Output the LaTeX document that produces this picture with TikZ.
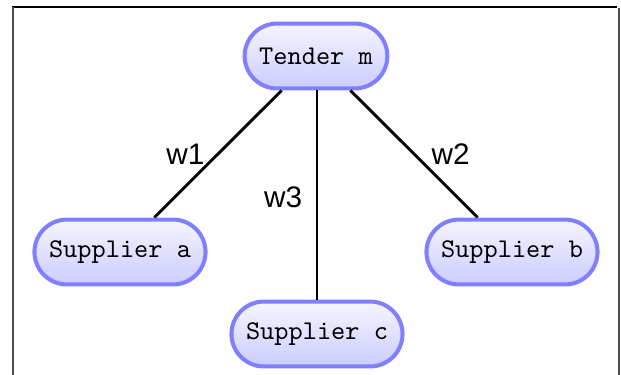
\documentclass[tikz,border=0pt]{standalone}
\usepackage{fontspec}
\setsansfont{Liberation Sans}
\usetikzlibrary{positioning}
\begin{document}
\begin{tikzpicture}[x=0.37pt,y=-0.37pt,
  party/.style={draw=blue!50, line width=1.5pt, rounded corners=12pt,
    top color=blue!4, bottom color=blue!20, font=\ttfamily,
    minimum height=24pt, inner xsep=5.4pt, inner ysep=3pt},
  link/.style={line width=1.05pt, black},
  wlabel/.style={font=\sffamily\fontsize{11}{13}\selectfont, inner sep=1pt},
  frameline/.style={line width=0.5pt}]
\useasboundingbox (0,0) rectangle (621,375);
\draw[frameline, black] (12,7) -- (617,7);
\draw[frameline, black!70] (13,7) -- (13,375);
\draw[frameline, black!70] (619,8) -- (619,375);

\node[party] (t) at (316,56) {Tender m};
\node[party] (a) at (120,252) {Supplier a};
\node[party] (b) at (512,252) {Supplier b};
\node[party] (c) at (317,334) {Supplier c};

\draw[link] (t) -- node[wlabel, midway, left=3.5pt] {w1} (a);
\draw[link] (t) -- node[wlabel, midway, right=5pt] {w2} (b);
\draw[link] (t.south -| c) -- node[wlabel, midway, left=4pt, yshift=-1pt] {w3} (c);
\end{tikzpicture}
\end{document}
